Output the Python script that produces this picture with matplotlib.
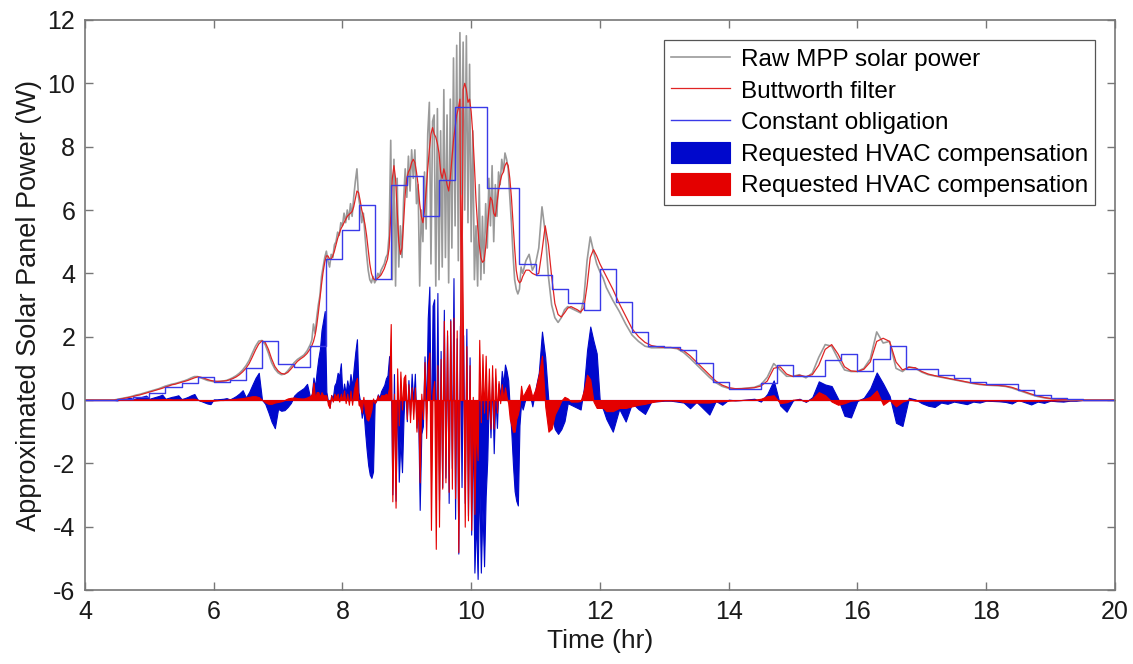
import numpy as np
import matplotlib
matplotlib.use('Agg')
import matplotlib.pyplot as plt

plt.rcParams['font.family'] = ['Liberation Sans', 'DejaVu Sans']
plt.rcParams['axes.unicode_minus'] = False

# sample times (hr): coarse in the calm parts, fine where the raw signal is noisy
hours = np.round(np.concatenate([
    np.arange(4.0, 7.5001, 0.05),
    np.arange(7.525, 10.8001, 0.025),
    np.arange(10.85, 12.2001, 0.05),
    np.arange(12.3, 20.0001, 0.1),
]), 3)

raw_power = [
    # 4.00 - 7.50
    0, 0, 0, 0, 0, 0, 0, 0, 0, 0,
    0.02, 0.04, 0.06, 0.08, 0.10, 0.13, 0.16, 0.18, 0.21, 0.24,
    0.27, 0.30, 0.33, 0.36, 0.40, 0.44, 0.47, 0.50, 0.52, 0.55,
    0.58, 0.61, 0.65, 0.70, 0.74, 0.74, 0.70, 0.66, 0.62, 0.60,
    0.58, 0.58, 0.59, 0.60, 0.62, 0.66, 0.71, 0.77, 0.85, 0.95,
    1.08, 1.25, 1.48, 1.70, 1.86, 1.88, 1.75, 1.48, 1.18, 0.98,
    0.86, 0.80, 0.82, 0.92, 1.05, 1.18, 1.28, 1.35, 1.42, 1.55,
    1.75,
    # 7.525 - 10.80
    1.9, 2.4, 2.1, 2.6, 3.0, 3.3, 3.9, 4.2, 4.5, 4.7,
    4.4, 4.2, 4.6, 4.5, 4.9, 5.0, 5.3, 5.2, 5.6, 5.5,
    5.9, 5.6, 6.0, 5.7, 6.2, 5.8, 6.4, 6.9, 7.3, 6.4,
    6.1, 5.6, 5.9, 5.2, 4.6, 4.1, 3.8, 3.7, 3.9, 3.7,
    3.8, 4.0, 3.9, 4.1, 4.2, 4.3, 4.5, 4.6, 5.2, 8.2,
    3.8, 7.6, 3.6, 7.0, 4.2, 5.5, 4.5, 6.3, 7.3, 6.4,
    7.7, 6.6, 7.9, 7.0, 7.9, 6.2, 6.8, 3.6, 6.0, 5.0,
    7.2, 5.4, 8.4, 9.4, 4.3, 8.8, 9.0, 3.6, 9.2, 3.8,
    8.5, 4.2, 9.8, 4.5, 9.0, 3.7, 9.5, 4.8, 10.8, 5.5,
    11.2, 4.4, 11.6, 6.5, 11.3, 6.0, 11.5, 5.6, 10.6, 5.0,
    8.5, 3.8, 5.5, 3.6, 6.8, 3.8, 5.8, 4.0, 6.2, 4.8,
    7.0, 5.5, 7.4, 5.0, 6.8, 5.8, 7.2, 6.8, 7.6, 7.2,
    7.8, 7.6, 7.3, 6.4, 5.6, 4.6, 3.8, 3.5, 3.35, 3.5,
    4.2, 4.0,
    # 10.85 - 12.20
    4.4, 4.6, 4.1, 4.3, 4.8, 6.1, 5.3, 3.9, 3.0, 2.6,
    2.45, 2.6, 2.85, 2.95, 2.9, 2.85, 2.8, 2.75, 3.2, 4.4,
    5.15, 4.7, 4.3, 4.05, 3.85, 3.55, 3.35, 3.15,
    # 12.3 - 20.0
    2.8, 2.4, 2.05, 1.85, 1.7, 1.65, 1.65,
    1.65, 1.65, 1.62, 1.5, 1.32, 1.12, 0.92, 0.72, 0.55, 0.43,
    0.37, 0.35, 0.36, 0.38, 0.40, 0.48, 0.72, 1.15, 0.95, 0.75,
    0.75, 0.80, 0.70, 0.85, 1.35, 1.75, 1.70, 1.30, 0.95, 0.90,
    0.90, 1.00, 1.30, 2.15, 1.80, 1.85, 1.00, 0.90, 1.05, 1.00,
    0.88, 0.80, 0.76, 0.72, 0.68, 0.64, 0.60, 0.56, 0.52, 0.49,
    0.47, 0.46, 0.45, 0.43, 0.38, 0.31, 0.24, 0.17, 0.11, 0.07,
    0.04, 0.02, 0.01, 0.0,
    0, 0, 0, 0, 0, 0, 0,
]

filtered_power = [
    # 4.00 - 7.50
    0, 0, 0, 0, 0, 0, 0, 0, 0, 0,
    0.01, 0.03, 0.05, 0.07, 0.09, 0.11, 0.14, 0.16, 0.19, 0.22,
    0.25, 0.28, 0.31, 0.34, 0.37, 0.41, 0.44, 0.48, 0.50, 0.53,
    0.56, 0.59, 0.62, 0.66, 0.70, 0.73, 0.72, 0.69, 0.65, 0.62,
    0.60, 0.59, 0.59, 0.60, 0.61, 0.64, 0.68, 0.73, 0.80, 0.89,
    1.00, 1.15, 1.36, 1.58, 1.77, 1.87, 1.82, 1.60, 1.30, 1.06,
    0.92, 0.84, 0.82, 0.87, 0.98, 1.10, 1.22, 1.30, 1.37, 1.47,
    1.62,
    # 7.525 - 10.80
    1.72, 1.85, 2.05, 2.35, 2.75, 3.2, 3.65, 4.05, 4.35, 4.55,
    4.55, 4.45, 4.45, 4.55, 4.7, 4.9, 5.1, 5.25, 5.4, 5.5,
    5.6, 5.7, 5.8, 5.85, 5.9, 5.95, 6.1, 6.35, 6.6, 6.55,
    6.3, 6.0, 5.8, 5.55, 5.2, 4.75, 4.3, 4.0, 3.85, 3.8,
    3.8, 3.85, 3.9, 3.95, 4.05, 4.15, 4.3, 4.45, 4.8, 5.8,
    7.0, 7.4, 7.0, 6.0, 5.0, 4.6, 4.8, 5.6, 6.5, 7.0,
    7.2, 7.3, 7.5, 7.6, 7.5, 7.2, 6.8, 6.2, 5.8, 5.6,
    6.0, 6.6, 7.3, 7.9, 8.4, 8.6, 8.4, 8.3, 8.1, 7.8,
    7.2, 7.0, 7.3, 7.1, 6.8, 6.6, 7.0, 7.6, 8.2, 8.6,
    9.0, 9.2, 9.5, 0.0, 9.8, 10.0, 9.8, 9.4, 9.5, 9.1,
    8.4, 7.4, 6.3, 5.5, 4.9, 4.5, 4.35, 4.4, 4.8, 5.4,
    6.0, 6.4, 6.3, 5.9, 5.8, 6.2, 6.6, 6.9, 7.1, 7.2,
    7.4, 7.5, 7.4, 7.0, 6.4, 5.6, 4.8, 4.1, 3.8, 3.7,
    3.75, 3.9,
    # 10.85 - 12.20
    4.1, 4.1, 4.0, 3.95, 4.0, 4.7, 5.5, 4.9, 3.9, 3.05,
    2.7, 2.62, 2.75, 2.9, 2.95, 2.9, 2.85, 2.78, 2.9, 3.6,
    4.5, 4.75, 4.55, 4.3, 4.1, 3.9, 3.7, 3.5,
    # 12.3 - 20.0
    3.05, 2.65, 2.25, 2.0, 1.82, 1.72, 1.68,
    1.66, 1.66, 1.64, 1.56, 1.4, 1.2, 1.0, 0.8, 0.6, 0.47,
    0.39, 0.36, 0.36, 0.37, 0.39, 0.44, 0.6, 1.0, 1.05, 0.82,
    0.74, 0.78, 0.74, 0.8, 1.1, 1.6, 1.75, 1.45, 1.05, 0.92,
    0.9, 0.97, 1.2, 1.85, 1.95, 1.85, 1.2, 0.95, 1.03, 1.02,
    0.9, 0.82, 0.77, 0.73, 0.69, 0.65, 0.61, 0.57, 0.53, 0.5,
    0.48, 0.47, 0.46, 0.44, 0.4, 0.33, 0.26, 0.19, 0.13, 0.08,
    0.05, 0.03, 0.015, 0.005,
    0, 0, 0, 0, 0, 0, 0,
]

# constant obligation: start hour of each 15-min block and its level (W)
block_start = [4.0, 4.5, 4.75, 5.0, 5.25, 5.5, 5.75, 6.0, 6.25, 6.5,
               6.75, 7.0, 7.25, 7.5, 7.75, 8.0, 8.25, 8.5, 8.75, 9.0,
               9.25, 9.5, 9.75, 10.25, 10.75, 11.0, 11.25, 11.5, 11.75, 12.0,
               12.25, 12.5, 12.75, 13.0, 13.25, 13.5, 13.75, 14.0, 14.5, 14.75,
               15.0, 15.5, 15.75, 16.0, 16.25, 16.5, 16.75, 17.25, 17.5, 17.75,
               18.0, 18.5, 18.75, 19.0, 19.25, 19.5]
obligation = [0.0, 0.03, 0.1, 0.23, 0.4, 0.55, 0.73, 0.56, 0.64, 1.0,
              1.87, 1.14, 1.04, 1.69, 4.44, 5.38, 6.16, 3.82, 6.78, 7.07,
              5.82, 6.95, 9.25, 6.68, 4.3, 3.94, 3.52, 3.05, 2.83, 4.15,
              3.08, 2.14, 1.69, 1.67, 1.58, 1.18, 0.58, 0.36, 0.53, 1.12,
              0.76, 1.26, 1.45, 0.93, 1.28, 1.72, 0.98, 0.8, 0.69, 0.57,
              0.49, 0.31, 0.16, 0.06, 0.02, 0.0]

raw = np.array(raw_power)
filt = np.array(filtered_power)
idx = np.searchsorted(block_start, hours, side='right') - 1
obl_at = np.array(obligation)[idx]
comp_blue = raw - obl_at      # mismatch vs constant obligation
comp_red = raw - filt         # high-frequency residual

fig = plt.figure(figsize=(11.33, 6.64), dpi=100)
ax = fig.add_axes([0.075, 0.1114, 0.909, 0.8585])

h_raw, = ax.plot(hours, raw, color='#9a9a9a', lw=1.2, label='Raw MPP solar power')
h_filt, = ax.plot(hours, filt, color='#e02424', lw=0.9, label='Buttworth filter')
h_obl, = ax.step(block_start + [20.0], obligation + [obligation[-1]], where='post',
                 color='#3a3ae8', lw=1.0, label='Constant obligation')
h_blue = ax.fill_between(hours, 0, comp_blue, color='#0008cc', lw=0.8,
                         label='Requested HVAC compensation')
h_red = ax.fill_between(hours, 0, comp_red, color='#e40000', lw=0.8,
                        label='Requested HVAC compensation')

ax.set_xlim(4, 20)
ax.set_ylim(-6, 12)
ax.set_xticks(np.arange(4, 21, 2))
ax.set_yticks(np.arange(-6, 13, 2))
ax.tick_params(direction='in', length=6, width=1.0, color='#777777',
               labelsize=18, labelcolor='#1a1a1a', top=True, right=True, pad=7)
for s in ax.spines.values():
    s.set_color('#777777'); s.set_linewidth(1.2)
ax.set_xlabel('Time (hr)', fontsize=19, color='#1a1a1a', labelpad=4)
ax.set_ylabel('Approximated Solar Panel Power (W)', fontsize=19.5, color='#1a1a1a', labelpad=4)

leg = ax.legend(handles=[h_raw, h_filt, h_obl, h_blue, h_red], loc='upper right',
                bbox_to_anchor=(0.981, 0.965), borderaxespad=0, fontsize=17.5,
                fancybox=False, framealpha=1, edgecolor='#555555',
                handlelength=2.4, handleheight=1.0, handletextpad=0.45,
                labelspacing=0.3, borderpad=0.3)
leg.get_frame().set_linewidth(0.9)

fig.savefig('out.png', dpi=100)
